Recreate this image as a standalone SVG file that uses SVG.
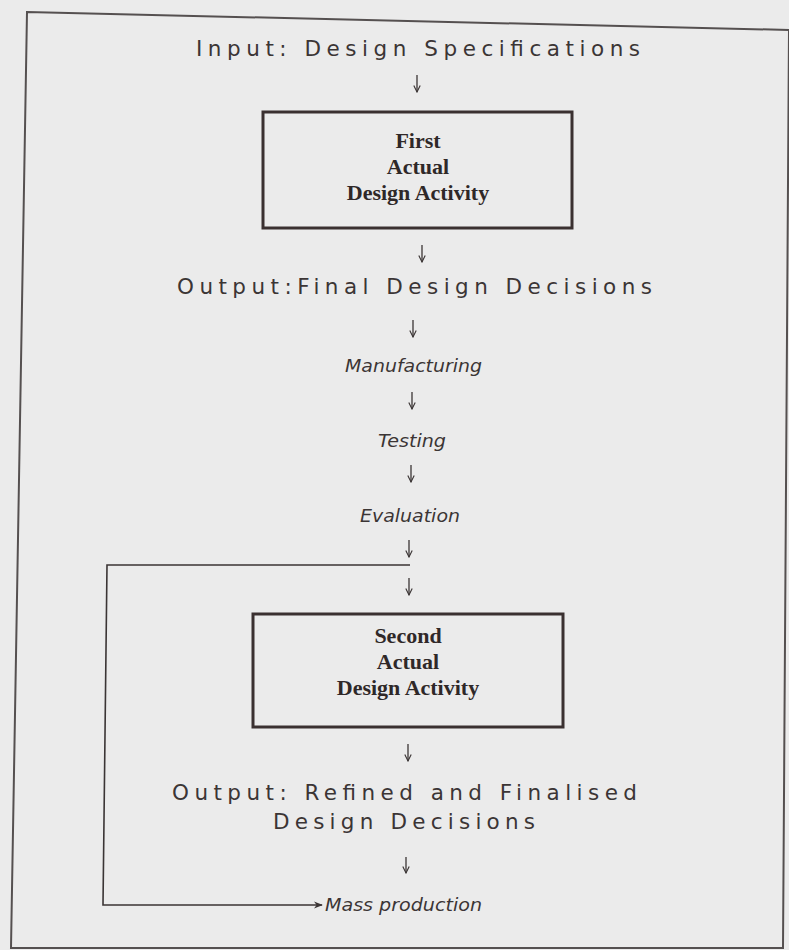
<svg xmlns="http://www.w3.org/2000/svg" width="789" height="950" viewBox="0 0 789 950">
  <defs>
    <style>
      .spaced { font-family: "DejaVu Sans", Verdana, sans-serif; font-size: 21.5px; fill: #3b3535; }
      .step { font-family: "DejaVu Sans", Verdana, sans-serif; font-style: italic; font-size: 18px; fill: #3b3535; }
      .boxlabel { font-family: "Liberation Serif", "Times New Roman", serif; font-weight: bold; font-size: 22px; fill: #2f2828; text-anchor: middle; }
      .box { fill: none; stroke: #3a3030; stroke-width: 3; }
      .flow { fill: none; stroke: #3b3535; stroke-width: 1.3; }
      .loop { fill: none; stroke: #3b3535; stroke-width: 1.6; }
      .frame { fill: none; stroke: #555050; stroke-width: 2; }
    </style>
    <marker id="vee" viewBox="0 0 10 10" refX="9" refY="5" markerWidth="8" markerHeight="8" markerUnits="userSpaceOnUse" orient="auto">
      <path d="M1,1 L9,5 L1,9" fill="none" stroke="#3b3535" stroke-width="1.4"/>
    </marker>
    <marker id="solid" viewBox="0 0 10 10" refX="9" refY="5" markerWidth="9" markerHeight="9" markerUnits="userSpaceOnUse" orient="auto">
      <path d="M0,1 L10,5 L0,9 L3,5 Z" fill="#3b3535"/>
    </marker>
  </defs>

  <!-- paper -->
  <rect x="0" y="0" width="789" height="950" fill="#ebebeb"/>
  <!-- page frame (slightly skewed scan) -->
  <polygon class="frame" points="27,12 789,30 783,948 11,948"/>

  <!-- flow connectors -->
  <g id="connectors">
    <path class="flow" d="M417,75 V92" marker-end="url(#vee)"/>
    <path class="flow" d="M422,245 V262" marker-end="url(#vee)"/>
    <path class="flow" d="M413,320 V337" marker-end="url(#vee)"/>
    <path class="flow" d="M412,392 V409" marker-end="url(#vee)"/>
    <path class="flow" d="M411,465 V482" marker-end="url(#vee)"/>
    <path class="flow" d="M409,540 V557" marker-end="url(#vee)"/>
    <path class="flow" d="M409,578 V595" marker-end="url(#vee)"/>
    <path class="flow" d="M408,744 V761" marker-end="url(#vee)"/>
    <path class="flow" d="M406,857 V873" marker-end="url(#vee)"/>
    <!-- bypass loop to mass production -->
    <path class="loop" d="M410,565 H107 L103,905 H322" marker-end="url(#solid)"/>
  </g>

  <g id="input">
    <text class="spaced" x="196" y="56" textLength="444" lengthAdjust="spacing">Input: Design Specifications</text>
  </g>

  <g id="first-activity">
    <rect class="box" x="263" y="112" width="309" height="116"/>
    <text class="boxlabel" x="418" y="148">First</text>
    <text class="boxlabel" x="418" y="174">Actual</text>
    <text class="boxlabel" x="418" y="200">Design Activity</text>
  </g>

  <g id="final-decisions">
    <text class="spaced" x="177" y="294" textLength="475" lengthAdjust="spacing">Output:Final Design Decisions</text>
  </g>

  <g id="manufacturing">
    <text class="step" x="345" y="372" textLength="137" lengthAdjust="spacingAndGlyphs">Manufacturing</text>
  </g>
  <g id="testing">
    <text class="step" x="378" y="447" textLength="68" lengthAdjust="spacingAndGlyphs">Testing</text>
  </g>
  <g id="evaluation">
    <text class="step" x="360" y="522" textLength="100" lengthAdjust="spacingAndGlyphs">Evaluation</text>
  </g>

  <g id="second-activity">
    <rect class="box" x="253" y="614" width="310" height="113"/>
    <text class="boxlabel" x="408" y="643">Second</text>
    <text class="boxlabel" x="408" y="669">Actual</text>
    <text class="boxlabel" x="408" y="695">Design Activity</text>
  </g>

  <g id="refined-decisions">
    <text class="spaced" x="172" y="800" textLength="465" lengthAdjust="spacing">Output: Refined and Finalised</text>
    <text class="spaced" x="273" y="829" textLength="262" lengthAdjust="spacing">Design Decisions</text>
  </g>

  <g id="mass-production">
    <text class="step" x="325" y="911" textLength="157" lengthAdjust="spacingAndGlyphs">Mass production</text>
  </g>
</svg>
